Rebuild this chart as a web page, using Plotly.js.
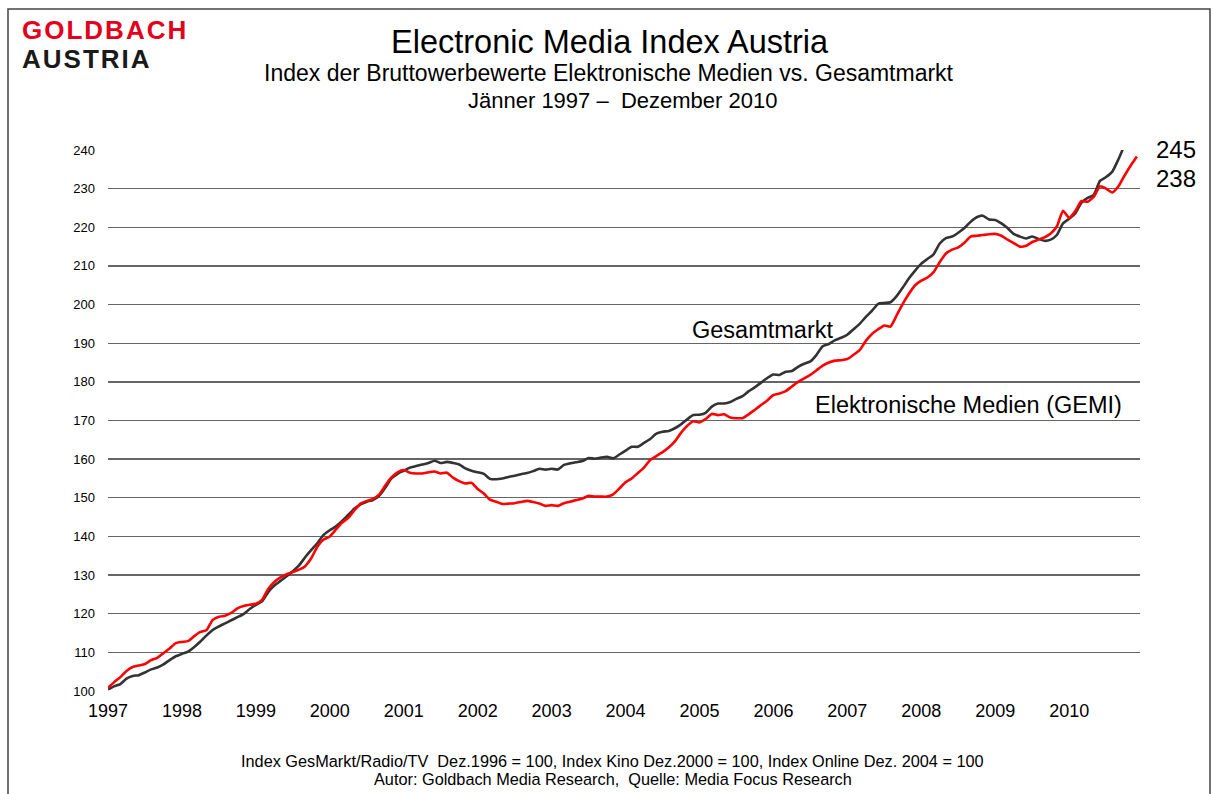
<!DOCTYPE html>
<html>
<head>
<meta charset="utf-8">
<script src="https://cdn.plot.ly/plotly-3.0.1.min.js"></script>
<style>html,body{margin:0;padding:0;background:#fff;}#chart{width:1213px;height:794px;}</style>
</head>
<body>
<div id="chart"></div>
<script>
// Years shown on the x axis (January of each year)
const yearLabels = ['1997','1998','1999','2000','2001','2002','2003','2004','2005','2006','2007','2008','2009','2010'];

// Monthly index values, Jan 1997 .. Dec 2010
const gesamtmarkt = [
 100.4,101.2,101.8,103.2,103.9,104.1,104.8,105.6,106.1,106.9,108.0,109.0,
 109.6,110.2,111.4,112.8,114.4,115.8,116.7,117.5,118.3,119.1,119.9,121.2,
 122.3,123.2,125.6,127.3,128.5,129.7,131.0,132.5,134.6,136.5,138.3,140.4,
 141.6,142.6,144.0,145.6,147.2,148.3,149.0,149.4,150.5,152.6,155.0,156.2,
 157.0,157.8,158.2,158.6,159.0,159.6,159.0,159.3,159.0,158.6,157.6,157.0,
 156.6,156.2,154.9,154.8,155.0,155.4,155.7,156.1,156.4,156.9,157.5,157.3,
 157.5,157.3,158.5,158.9,159.2,159.5,160.3,160.1,160.4,160.6,160.2,161.2,
 162.2,163.2,163.2,164.2,165.2,166.6,167.1,167.3,168.0,169.0,170.3,171.4,
 171.5,172.0,173.6,174.4,174.4,174.8,175.6,176.3,177.6,178.6,179.8,181.0,
 181.9,181.8,182.6,182.8,183.9,184.7,185.3,187.0,189.2,189.8,190.8,191.4,
 192.2,193.6,195.0,196.8,198.4,200.2,200.4,200.6,202.2,204.4,206.8,208.8,
 210.6,211.8,213.0,215.8,217.2,217.6,218.6,219.8,221.4,222.6,223.0,222.0,
 221.9,221.0,219.8,218.3,217.6,217.1,217.6,217.0,216.5,216.8,218.0,221.0,
 222.2,223.6,226.4,227.6,228.4,232.0,233.0,234.4,237.6,241.2,243.4,245.0
];
const elektronischeMedien = [
 100.8,102.3,103.6,105.2,106.2,106.6,107.0,108.0,108.6,109.8,111.0,112.4,
 112.7,112.9,114.2,115.3,115.8,118.4,119.2,119.5,120.2,121.4,122.0,122.3,
 122.6,123.6,126.4,128.2,129.4,130.2,130.8,131.4,132.3,134.4,137.4,139.2,
 140.0,141.8,143.6,144.8,146.8,148.5,149.2,149.7,150.8,153.2,155.3,156.6,
 157.2,156.5,156.3,156.3,156.6,156.8,156.3,156.5,155.2,154.3,153.7,153.9,
 152.3,151.1,149.5,149.0,148.4,148.5,148.6,148.9,149.2,148.9,148.5,147.9,
 148.1,147.9,148.6,149.0,149.4,149.8,150.5,150.3,150.3,150.3,150.9,152.4,
 154.0,155.0,156.4,157.8,159.8,160.8,161.8,163.0,164.6,166.8,168.6,169.8,
 169.5,170.4,171.7,171.4,171.6,170.8,170.6,170.6,171.6,172.8,174.0,175.2,
 176.6,177.0,177.6,178.8,180.0,180.9,181.8,183.0,184.2,185.0,185.5,185.6,
 185.9,187.0,188.2,190.6,192.4,193.6,194.6,194.3,197.2,200.2,202.8,205.0,
 206.2,207.0,208.4,211.0,213.2,214.2,214.8,216.0,217.6,217.8,218.0,218.2,
 218.3,217.8,216.8,215.9,215.0,215.2,216.2,216.8,217.4,218.4,220.2,224.3,
 222.4,224.2,226.8,226.6,227.9,230.6,230.0,229.0,230.6,233.4,236.0,238.3
];
const endLabels = ['245','238'];
const seriesNames = ['Gesamtmarkt','Elektronische Medien (GEMI)'];

const monthIdx = gesamtmarkt.map((_, i) => i);
const yearTickVals = yearLabels.map((_, k) => k * 12);

const FONT = 'Liberation Sans, Arial, sans-serif';
// pixel -> paper helpers (plot area: x 108..1140, y 150..691)
const L = 108, R = 1140, T = 150, B = 691;
const px = v => (v - L) / (R - L);
const py = v => (B - v) / (B - T);

const traces = [
  {x: monthIdx, y: gesamtmarkt, type: 'scatter', mode: 'lines', name: seriesNames[0],
   line: {color: '#333333', width: 2.6, shape: 'spline', smoothing: 0.5}, hoverinfo: 'skip'},
  {x: monthIdx, y: elektronischeMedien, type: 'scatter', mode: 'lines', name: seriesNames[1],
   line: {color: '#ff0000', width: 2.6, shape: 'spline', smoothing: 0.5}, hoverinfo: 'skip'}
];

const ann = (text, x, y, size, opts) => Object.assign({
  text: text, xref: 'paper', yref: 'paper', x: px(x), y: py(y), showarrow: false,
  xanchor: 'center', yanchor: 'middle', font: {family: FONT, size: size, color: '#000'}
}, opts || {});

const logoText = '<span style="font-size:26px;letter-spacing:2px;color:#e2001a"><b>GOLDBACH</b></span><br>' +
                 '<span style="font-size:26px;letter-spacing:2px;color:#1a1a1a"><b>AUSTRIA</b></span>';

const layout = {
  width: 1213, height: 794,
  margin: {l: L, r: 1213 - R, t: T, b: 794 - B, pad: 0},
  paper_bgcolor: '#ffffff', plot_bgcolor: '#ffffff',
  showlegend: false,
  xaxis: {
    range: [0, 167.5], tickmode: 'array', tickvals: yearTickVals, ticktext: yearLabels,
    showgrid: false, zeroline: false, showline: false, ticks: '',
    tickfont: {family: FONT, size: 18, color: '#000'}, ticklabelstandoff: 7
  },
  yaxis: {
    range: [100, 240], tickmode: 'array', tickvals: [100,110,120,130,140,150,160,170,180,190,200,210,220,230,240],
    showgrid: true, gridcolor: '#666666', gridwidth: 1.3, zeroline: false, showline: false,
    ticks: '', ticklabelstandoff: 12,
    tickfont: {family: FONT, size: 13, color: '#000'}
  },
  title: {text: ''},
  annotations: [
    ann('Electronic Media Index Austria', 610, 42, 32.5),
    ann('Index der Bruttowerbewerte Elektronische Medien vs. Gesamtmarkt', 609, 73, 23),
    ann('Jänner 1997 –  Dezember 2010', 622, 101, 22),
    ann(logoText, 20, 45, 22.3, {xanchor: 'left', align: 'left', font: {family: FONT, size: 22.3, color: '#1a1a1a'}}),
    ann(seriesNames[0], 762, 330, 23.5),
    ann(seriesNames[1], 968, 405, 23.5),
    ann(endLabels[0], 1154, 149, 24, {xanchor: 'left'}),
    ann(endLabels[1], 1154, 178, 24, {xanchor: 'left'}),
    ann('Index GesMarkt/Radio/TV  Dez.1996 = 100, Index Kino Dez.2000 = 100, Index Online Dez. 2004 = 100', 612, 761, 16.3),
    ann('Autor: Goldbach Media Research,  Quelle: Media Focus Research', 613, 779, 16.3)
  ],
  shapes: [
    {type: 'rect', xref: 'paper', yref: 'paper', x0: px(8), x1: px(1210), y0: py(800), y1: py(9),
     line: {color: '#444', width: 1.5}, fillcolor: 'rgba(0,0,0,0)', layer: 'below'}
  ]
};

Plotly.newPlot('chart', traces, layout, {staticPlot: true, displayModeBar: false});
</script>
</body>
</html>
